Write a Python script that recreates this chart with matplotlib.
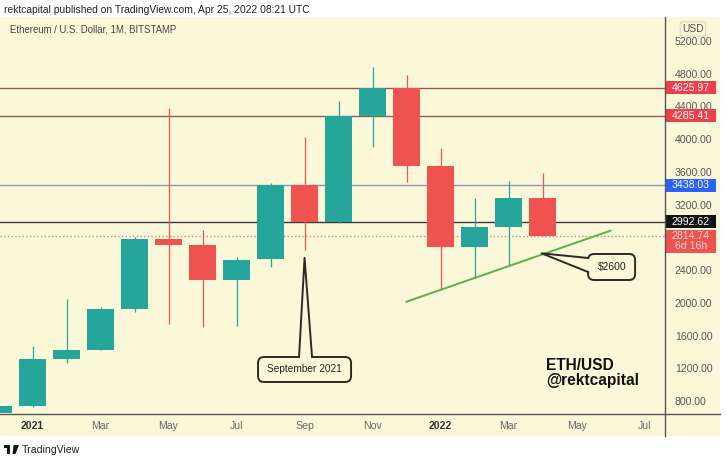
import matplotlib
matplotlib.use("Agg")
import matplotlib.pyplot as plt
from matplotlib.patches import Rectangle, FancyBboxPatch, Polygon
from matplotlib.transforms import blended_transform_factory
from matplotlib.lines import Line2D

plt.rcParams['font.family'] = ['Liberation Sans', 'DejaVu Sans']

# ---------------- data ----------------
months = ["Dec 2020", "Jan 2021", "Feb 2021", "Mar 2021", "Apr 2021", "May 2021", "Jun 2021",
          "Jul 2021", "Aug 2021", "Sep 2021", "Oct 2021", "Nov 2021", "Dec 2021",
          "Jan 2022", "Feb 2022", "Mar 2022", "Apr 2022"]
month_idx = [-1, 0, 1, 2, 3, 4, 5, 6, 7, 8, 9, 10, 11, 12, 13, 14, 15]
opens  = [616, 739, 1313, 1423, 1921, 2777, 2707, 2279, 2530, 3441, 2992, 4288, 4630, 3677, 2686, 2923, 3285]
highs  = [757, 1472, 2043, 1953, 2809, 4378, 2890, 2560, 3469, 4031, 4471, 4879, 4785, 3897, 3285, 3490, 3591]
lows   = [540, 727, 1261, 1418, 1892, 1738, 1701, 1717, 2442, 2646, 2972, 3909, 3481, 2169, 2307, 2450, 2815]
closes = [739, 1313, 1423, 1921, 2777, 2707, 2279, 2524, 3441, 2992, 4288, 4630, 3677, 2686, 2923, 3285, 2815]

level_values = [4625.97, 4285.41, 3438.03, 2992.62, 2814.74]
level_labels = ["4625.97", "4285.41", "3438.03", "2992.62", "2814.74\n6d 16h"]

price_ticks = [800, 1200, 1600, 2000, 2400, 3200, 3600, 4000, 4400, 4800, 5200]
time_ticks = [0, 2, 4, 6, 8, 10, 12, 14, 16, 18]
time_labels = ["2021", "Mar", "May", "Jul", "Sep", "Nov", "2022", "Mar", "May", "Jul"]

trend_x = [11.0, 17.0]
trend_y = [2014, 2882]

sep_note_tip = (8.0, 2550)
usd_note_tip = (14.97, 2605)

# ---------------- figure ----------------
W, H = 726, 458
fig = plt.figure(figsize=(W / 100, H / 100), dpi=100, facecolor="white")

def fx(px):
    return px / W

def fy(py):
    return 1 - py / H

BG = "#fbf8d9"
fig.patches.append(Rectangle((fx(0), fy(436)), fx(720), fy(17) - fy(436),
                             transform=fig.transFigure, facecolor=BG, edgecolor="none", zorder=-5))

ax = fig.add_axes([fx(0), fy(413), fx(665), fy(17) - fy(413)])
ax.set_zorder(1)
ax.set_facecolor(BG)
ax.set_xlim(-0.956, 18.6)
ax.set_ylim(653.3, 5493.3)
for s in ax.spines.values():
    s.set_visible(False)

unit = 1 / 0.081818  # y data units per pixel
xunit = 1 / 34.0     # x data units per pixel
ASPECT = unit / xunit

GREEN = "#26a69a"
RED = "#ef5350"
bw = 0.78
for i, o, h, l, c in zip(month_idx, opens, highs, lows, closes):
    col = GREEN if c >= o else RED
    ax.vlines(i, l, h, color=col, lw=0.9, zorder=2)
    ax.add_patch(Rectangle((i - bw / 2, min(o, c)), bw, max(abs(c - o), 12),
                           facecolor=col, edgecolor="none", zorder=3))

# horizontal levels
line_cols = ["#8c5d52", "#8c5d52", "#8a98b0", "#3a3a3a", "#c98a80"]
line_styles = ["-", "-", "-", "-", ":"]
for v, col, ls in zip(level_values, line_cols, line_styles):
    ax.axhline(v, color=col, lw=1.0, ls=ls, zorder=1)

# trend line
ax.plot(trend_x, trend_y, color="#5fae4e", lw=1.4, zorder=4)

# ticks
ax.yaxis.tick_right()
ax.set_yticks(price_ticks)
ax.set_yticklabels([f"{v:.2f}" for v in price_ticks])
ax.tick_params(axis="y", length=0, pad=7, labelsize=7.6, labelcolor="#555555")
ax.set_xticks(time_ticks)
ax.set_xticklabels(time_labels)
ax.tick_params(axis="x", length=0, pad=6, labelsize=7.6, labelcolor="#666666")
for lab in ax.get_xticklabels():
    if lab.get_text() in ("2021", "2022"):
        lab.set_fontweight("bold")
        lab.set_color("#333333")

# axis separator lines
fig.add_artist(Line2D([fx(665), fx(665)], [fy(17), fy(436)], transform=fig.transFigure,
                      color="#555555", lw=1.0, zorder=5))
fig.add_artist(Line2D([fx(0), fx(720)], [fy(413.5), fy(413.5)], transform=fig.transFigure,
                      color="#555555", lw=1.0, zorder=5))

# price level labels
box_cols = ["#ef3f4c", "#ef3f4c", "#2962ff", "#131313", "#ef5350"]
txt_cols = ["white", "white", "white", "white", "#fbd8d8"]
trans = blended_transform_factory(fig.transFigure, ax.transData)
for v, lab, bc, tc in zip(level_values, level_labels, box_cols, txt_cols):
    nlines = lab.count("\n") + 1
    hpx = 13 if nlines == 1 else 23
    top = v + 6.5 * unit
    bottom = top - hpx * unit
    ax.add_patch(Rectangle((fx(666), bottom), fx(50), hpx * unit,
                           transform=trans, facecolor=bc, edgecolor="none",
                           clip_on=False, zorder=6))
    ax.text(fx(691), (top + bottom) / 2, lab, transform=trans, ha="center", va="center",
            color=tc, fontsize=7.6, linespacing=1.0, zorder=7, clip_on=False)

# USD label
fig.text(fx(693), fy(29), "USD", ha="center", va="center", fontsize=7.4, color="#555555",
         bbox=dict(boxstyle="round,pad=0.2", facecolor=BG, edgecolor="#d0cfc0", lw=0.6))

# header & title
fig.text(fx(4), fy(10), "rektcapital published on TradingView.com, Apr 25, 2022 08:21 UTC",
         ha="left", va="center", fontsize=7.4, color="#222222")
fig.text(fx(10), fy(30), "Ethereum / U.S. Dollar, 1M, BITSTAMP",
         ha="left", va="center", fontsize=6.9, color="#444444", zorder=6)

# callouts
def px_to_data(px, py):
    return ((px - 32.5) * xunit, 800 + (401 - py) * unit)

EDGE = "#2b2b22"

def rounded_box(px0, py0, px1, py1):
    x0, y0 = px_to_data(px0, py1)
    x1, y1 = px_to_data(px1, py0)
    ax.add_patch(FancyBboxPatch((x0, y0), x1 - x0, y1 - y0,
                                boxstyle="round,pad=0,rounding_size=%f" % (6 * xunit),
                                mutation_aspect=ASPECT,
                                facecolor=BG, edgecolor=EDGE, lw=1.4, zorder=8))
    return x0, y0, x1, y1

# September 2021
x0, y0, x1, y1 = rounded_box(258, 357, 351, 382)
bl = px_to_data(299, 359)
br = px_to_data(312, 359)
ytop = px_to_data(0, 357)[1]
ax.add_patch(Polygon([bl, sep_note_tip, br], closed=True, facecolor=BG, edgecolor="none", zorder=9))
ax.plot([bl[0], sep_note_tip[0], br[0]], [ytop, sep_note_tip[1], ytop],
        color=EDGE, lw=1.4, zorder=10)
ax.text((x0 + x1) / 2, (y0 + y1) / 2, "September 2021", ha="center", va="center",
        fontsize=7.3, color="#222222", zorder=11)

# $2600
x0, y0, x1, y1 = rounded_box(588, 254, 635, 280)
pt = px_to_data(590, 258)
pb = px_to_data(590, 272)
ax.add_patch(Polygon([pt, usd_note_tip, pb], closed=True, facecolor=BG, edgecolor="none", zorder=9))
ax.plot([x0, usd_note_tip[0], x0], [pt[1], usd_note_tip[1], pb[1]], color=EDGE, lw=1.4, zorder=10)
ax.text((x0 + x1) / 2 + 0.03, (y0 + y1) / 2, "$2600", ha="center", va="center",
        fontsize=7.4, color="#222222", zorder=11)

# watermark text
ax.text(15.1, 1140, "ETH/USD\n@rektcapital", ha="left", va="center",
        fontsize=11.2, fontweight="bold", color="#111111", linespacing=1.0, zorder=5)

# footer logo + text
lc = "#131722"
fig.patches.append(Rectangle((fx(4), fy(448)), fx(6), fy(445) - fy(448),
                             transform=fig.transFigure, facecolor=lc, edgecolor="none"))
fig.patches.append(Rectangle((fx(7), fy(454)), fx(3), fy(445) - fy(454),
                             transform=fig.transFigure, facecolor=lc, edgecolor="none"))
fig.patches.append(Polygon([(fx(13.5), fy(445)), (fx(19), fy(445)), (fx(15.5), fy(454)), (fx(12.5), fy(454))],
                           closed=True, transform=fig.transFigure, facecolor=lc, edgecolor="none"))
fig.text(fx(22), fy(450), "TradingView", ha="left", va="center", fontsize=7.6, color="#222222")

fig.savefig("out.png", dpi=100, facecolor="white")
